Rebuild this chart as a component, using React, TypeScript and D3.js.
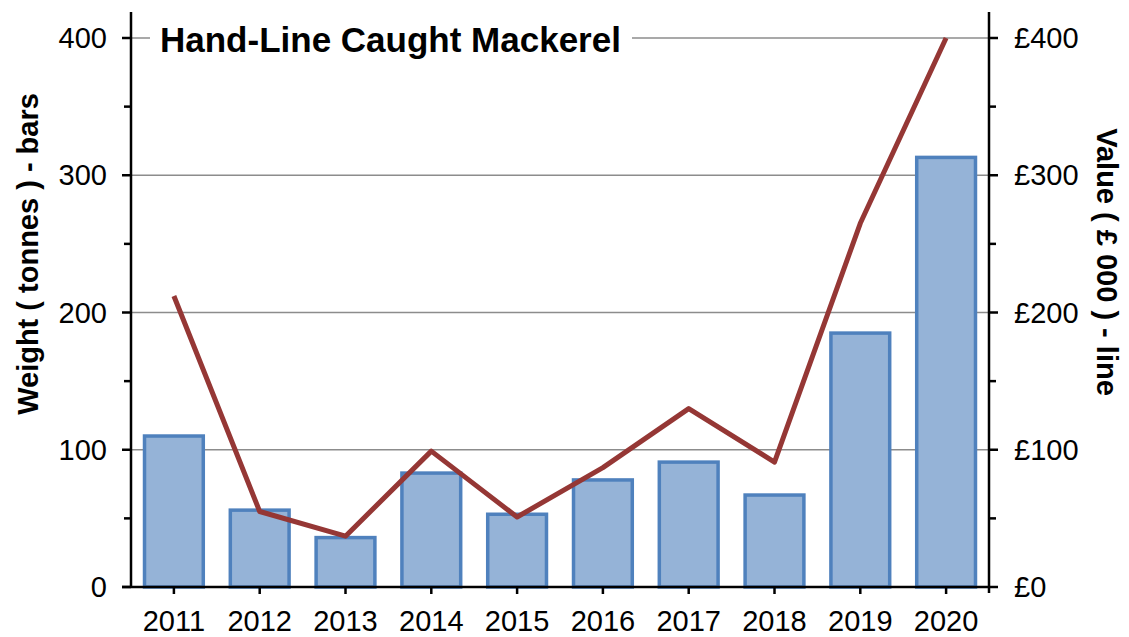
import React, { useEffect, useRef } from 'react';
import * as d3 from 'd3';

const years = ['2011', '2012', '2013', '2014', '2015', '2016', '2017', '2018', '2019', '2020'];
const weightTonnes = [110, 56, 36, 83, 53, 78, 91, 67, 185, 313];
const valueThousands = [212, 55, 37, 99, 51, 87, 130, 91, 265, 400];
const leftTicks = [0, 100, 200, 300, 400];
const minorTicks = [50, 150, 250, 350];
const rightTickLabels = ['£0', '£100', '£200', '£300', '£400'];

const App = () => {
  const ref = useRef<SVGSVGElement | null>(null);

  useEffect(() => {
    const svgWidth = 1129;
    const svgHeight = 637;
    const left = 131;
    const right = 989;
    const bottom = 587;
    const top = 38;
    const font = "'Liberation Sans', Arial, Helvetica, sans-serif";
    const tickSize = 29;

    const svg = d3.select(ref.current);
    svg.selectAll('*').remove();
    svg.attr('width', svgWidth).attr('height', svgHeight);

    const x = d3.scaleBand()
      .domain(years)
      .range([left, right])
      .paddingInner(0.28)
      .paddingOuter(0.14);

    const y = d3.scaleLinear().domain([0, 400]).range([bottom, top]);

    // gridlines
    svg.append('g')
      .selectAll('line')
      .data(leftTicks.slice(1))
      .enter().append('line')
      .attr('x1', left).attr('x2', right)
      .attr('y1', d => y(d)).attr('y2', d => y(d))
      .attr('stroke', '#8c8c8c')
      .attr('stroke-width', 1.5);

    // bars
    svg.append('g')
      .selectAll('rect')
      .data(years)
      .enter().append('rect')
      .attr('x', d => x(d)! + 1.5)
      .attr('y', (d, i) => y(weightTonnes[i]))
      .attr('width', x.bandwidth() - 3)
      .attr('height', (d, i) => bottom - y(weightTonnes[i]))
      .attr('fill', '#95b3d7')
      .attr('stroke', '#4f81bd')
      .attr('stroke-width', 3.5);

    // line
    const line = d3.line<number>()
      .x((d, i) => x(years[i])! + x.bandwidth() / 2)
      .y(d => y(d));

    svg.append('path')
      .datum(valueThousands)
      .attr('d', line)
      .attr('fill', 'none')
      .attr('stroke', '#953735')
      .attr('stroke-width', 5)
      .attr('stroke-linejoin', 'round');

    const axisColor = '#000';

    // left axis
    svg.append('line')
      .attr('x1', left).attr('x2', left)
      .attr('y1', 12).attr('y2', bottom)
      .attr('stroke', axisColor).attr('stroke-width', 2.5);
    svg.append('g').selectAll('line').data(leftTicks).enter().append('line')
      .attr('x1', left - 9).attr('x2', left)
      .attr('y1', d => y(d)).attr('y2', d => y(d))
      .attr('stroke', axisColor).attr('stroke-width', 2.5);
    svg.append('g').selectAll('line').data(minorTicks).enter().append('line')
      .attr('x1', left - 7).attr('x2', left)
      .attr('y1', d => y(d)).attr('y2', d => y(d))
      .attr('stroke', axisColor).attr('stroke-width', 2.5);
    svg.append('g').selectAll('text').data(leftTicks).enter().append('text')
      .attr('x', left - 24)
      .attr('y', d => y(d))
      .attr('dy', '0.35em')
      .attr('text-anchor', 'end')
      .attr('font-family', font)
      .attr('font-size', tickSize)
      .text(d => d);

    // right axis
    svg.append('line')
      .attr('x1', right).attr('x2', right)
      .attr('y1', 12).attr('y2', bottom + 6)
      .attr('stroke', axisColor).attr('stroke-width', 2.5);
    svg.append('g').selectAll('line').data(leftTicks).enter().append('line')
      .attr('x1', right).attr('x2', right + 9)
      .attr('y1', d => y(d)).attr('y2', d => y(d))
      .attr('stroke', axisColor).attr('stroke-width', 2.5);
    svg.append('g').selectAll('line').data(minorTicks).enter().append('line')
      .attr('x1', right).attr('x2', right + 7)
      .attr('y1', d => y(d)).attr('y2', d => y(d))
      .attr('stroke', axisColor).attr('stroke-width', 2.5);
    svg.append('g').selectAll('text').data(leftTicks).enter().append('text')
      .attr('x', right + 25)
      .attr('y', d => y(d))
      .attr('dy', '0.35em')
      .attr('font-family', font)
      .attr('font-size', tickSize)
      .text((d, i) => rightTickLabels[i]);

    // x axis
    svg.append('line')
      .attr('x1', left - 9).attr('x2', right)
      .attr('y1', bottom).attr('y2', bottom)
      .attr('stroke', axisColor).attr('stroke-width', 2.5);
    svg.append('g').selectAll('line').data(years).enter().append('line')
      .attr('x1', d => x(d)! + x.bandwidth() / 2)
      .attr('x2', d => x(d)! + x.bandwidth() / 2)
      .attr('y1', bottom).attr('y2', bottom + 7)
      .attr('stroke', axisColor).attr('stroke-width', 2.5);
    svg.append('g').selectAll('text').data(years).enter().append('text')
      .attr('x', d => x(d)! + x.bandwidth() / 2)
      .attr('y', 631)
      .attr('text-anchor', 'middle')
      .attr('font-family', font)
      .attr('font-size', tickSize)
      .text(d => d);

    // axis titles
    svg.append('text')
      .attr('transform', 'translate(38, 254) rotate(-90)')
      .attr('text-anchor', 'middle')
      .attr('font-family', font)
      .attr('font-weight', 'bold')
      .attr('font-size', tickSize)
      .text('Weight ( tonnes ) - bars');

    svg.append('text')
      .attr('transform', 'translate(1097, 262) rotate(90)')
      .attr('text-anchor', 'middle')
      .attr('font-family', font)
      .attr('font-weight', 'bold')
      .attr('font-size', tickSize)
      .text('Value ( £ 000 ) - line');

    // chart title with white backing
    svg.append('rect')
      .attr('x', 150).attr('y', 20)
      .attr('width', 482).attr('height', 40)
      .attr('fill', '#fff');
    svg.append('text')
      .attr('x', 160)
      .attr('y', 52)
      .attr('font-family', font)
      .attr('font-weight', 'bold')
      .attr('font-size', 35)
      .text('Hand-Line Caught Mackerel');
  }, []);

  return (
    <svg ref={ref} style={{ position: 'absolute', left: 0, top: 0, background: '#fff' }} />
  );
};

export default App;
